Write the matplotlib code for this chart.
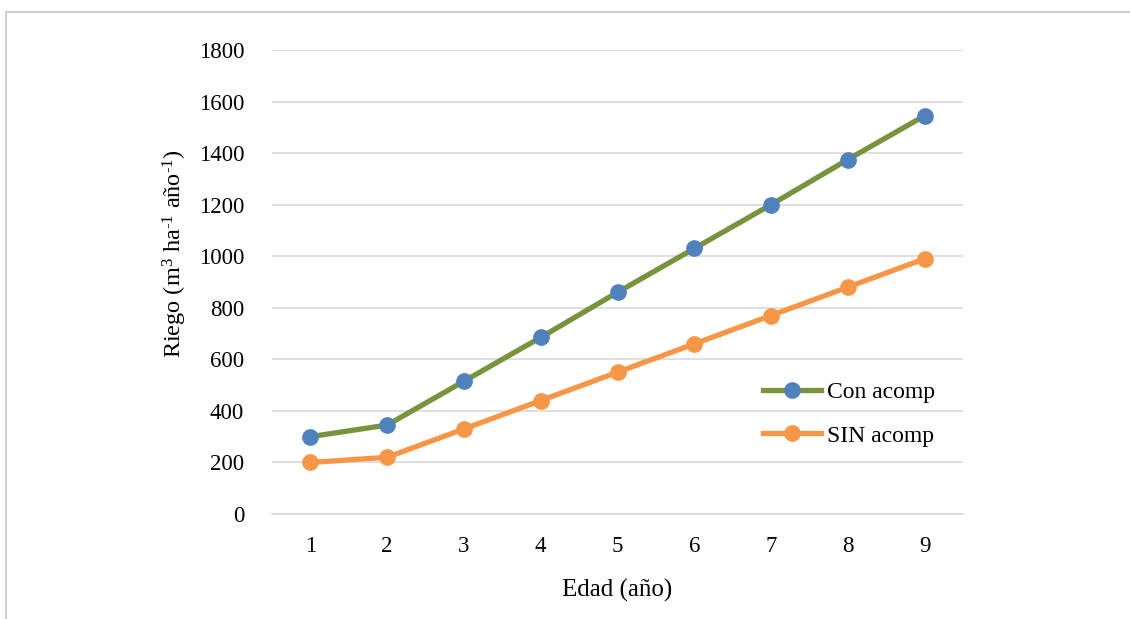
import matplotlib
matplotlib.use('Agg')
import matplotlib.pyplot as plt
from matplotlib.patches import Rectangle

# data
edad = [1, 2, 3, 4, 5, 6, 7, 8, 9]
con_acomp = [300, 345, 515, 685, 860, 1030, 1200, 1375, 1545]
sin_acomp = [200, 220, 330, 440, 550, 660, 770, 880, 990]
yticks = [0, 200, 400, 600, 800, 1000, 1200, 1400, 1600, 1800]

plt.rcParams['font.family'] = ['Liberation Serif', 'DejaVu Serif']
plt.rcParams['mathtext.fontset'] = 'custom'
plt.rcParams['mathtext.rm'] = 'Liberation Serif'
plt.rcParams['mathtext.default'] = 'regular'

W, H = 1130, 619
fig = plt.figure(figsize=(W / 100, H / 100), dpi=100)

# light outer frame (clipped at right and bottom in the original)
fig.patches.append(Rectangle((6 / W, -0.05), 1.1, 1 - 12 / H + 0.05, transform=fig.transFigure,
                             fill=False, edgecolor='#d0d0d0', linewidth=1.5))

ax = fig.add_axes([272 / W, 1 - 514 / H, (963 - 272) / W, (514 - 50) / H])

ax.plot(edad, con_acomp, '-o', color='#77933C', lw=3.8, ms=11,
        markerfacecolor='#4F81BD', markeredgecolor='#4F81BD', label='Con acomp', zorder=3)
ax.plot(edad, sin_acomp, '-o', color='#F79646', lw=3.8, ms=11,
        markerfacecolor='#F79646', markeredgecolor='#F79646', label='SIN acomp', zorder=3)

ax.set_xlim(0.5, 9.5)
ax.set_ylim(0, 1800)
ax.set_xticks(edad)
ax.set_yticks(yticks)
ax.tick_params(axis='both', length=0, labelsize=16.5)
ax.tick_params(axis='x', pad=16)
ax.tick_params(axis='y', pad=20)
ax.grid(axis='y', color='#d9d9d9', linewidth=1.2)
ax.set_axisbelow(True)
for s in ['top', 'right', 'left']:
    ax.spines[s].set_visible(False)
ax.spines['bottom'].set_color('#d9d9d9')
ax.spines['bottom'].set_linewidth(1.2)

ax.set_xlabel('Edad (año)', fontsize=18)
ax.xaxis.set_label_coords(0.5, (514 - 590) / 464, transform=ax.transAxes)
ax.set_ylabel('Riego (m$^{3}$ ha$^{\\text{-}1}$ año$^{\\text{-}1}$)', fontsize=17.5, va='center')
ax.yaxis.set_label_coords((175 - 272) / 691, (514 - 254) / 464, transform=ax.transAxes)
ax.xaxis.label.set_va('center')

ax.legend(loc='center left', bbox_to_anchor=(742 / W, 1 - 414 / H), bbox_transform=fig.transFigure,
          frameon=False, fontsize=17, handlelength=2.45, labelspacing=0.95, handletextpad=0.25)

plt.savefig('out.png', dpi=100)
